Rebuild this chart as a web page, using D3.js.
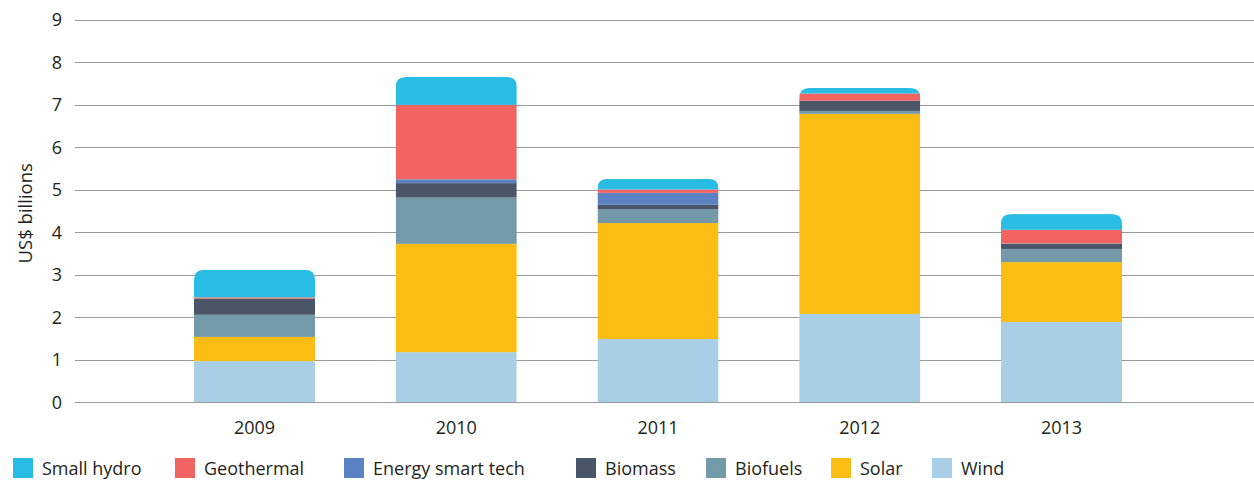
<!DOCTYPE html>
<html>
<head>
<meta charset="utf-8">
<script src="https://cdn.jsdelivr.net/npm/d3@7"></script>
<style>
  html, body { margin: 0; padding: 0; background: #fff; }
  svg { display: block; font-family: "Open Sans", "Noto Sans", sans-serif; }
</style>
</head>
<body>
<div id="chart"></div>
<script>
// Investment by technology, US$ billions
const years = ["2009", "2010", "2011", "2012", "2013"]
const series = ["Wind", "Solar", "Biofuels", "Biomass", "Energy smart tech", "Geothermal", "Small hydro"]
const wind       = [0.97, 1.18, 1.49, 2.08, 1.89]
const solar      = [0.57, 2.55, 2.73, 4.71, 1.41]
const biofuels   = [0.52, 1.09, 0.33, 0.07, 0.31]
const biomass    = [0.38, 0.34, 0.10, 0.24, 0.12]
const energySmart = [0.00, 0.09, 0.28, 0.00, 0.01]
const geothermal = [0.03, 1.75, 0.08, 0.17, 0.32]
const smallHydro = [0.65, 0.66, 0.25, 0.13, 0.37]
const yTicks = [0, 1, 2, 3, 4, 5, 6, 7, 8, 9]
const legendOrder = ["Small hydro", "Geothermal", "Energy smart tech", "Biomass", "Biofuels", "Solar", "Wind"]

const colors = {
  "Small hydro": "#29bde5",
  "Geothermal": "#f26462",
  "Energy smart tech": "#5b82c2",
  "Biomass": "#4a5668",
  "Biofuels": "#7499a8",
  "Solar": "#fbbd13",
  "Wind": "#a9cfe7"
}

const valuesBySeries = {
  "Wind": wind, "Solar": solar, "Biofuels": biofuels, "Biomass": biomass,
  "Energy smart tech": energySmart, "Geothermal": geothermal, "Small hydro": smallHydro
}

const table = years.map((y, i) => {
  const row = { year: y }
  series.forEach(s => { row[s] = valuesBySeries[s][i] })
  return row
})

const width = 1254, height = 482
const gridLeft = 75, gridRight = 1254

const svg = d3.select("#chart").append("svg")
  .attr("width", width)
  .attr("height", height)

const x = d3.scaleBand()
  .domain(years)
  .range([194, 1122])
  .paddingInner(0.4)
  .paddingOuter(0)

const y = d3.scaleLinear()
  .domain([0, 9])
  .range([402.3, 20])

// gridlines
svg.append("g")
  .selectAll("line")
  .data(yTicks)
  .join("line")
  .attr("x1", gridLeft)
  .attr("x2", gridRight)
  .attr("y1", d => Math.round(y(d)) + 0.5)
  .attr("y2", d => Math.round(y(d)) + 0.5)
  .attr("stroke", "#9a9a9a")
  .attr("stroke-width", 1)

// y tick labels
svg.append("g")
  .selectAll("text")
  .data(yTicks)
  .join("text")
  .attr("x", 62)
  .attr("y", d => y(d))
  .attr("dy", "0.35em")
  .attr("text-anchor", "end")
  .attr("fill", "#231f20")
  .attr("font-size", "18px")
  .text(d => d)

svg.append("text")
  .attr("transform", `translate(32,${y(4.45)}) rotate(-90)`)
  .attr("text-anchor", "middle")
  .attr("fill", "#231f20")
  .attr("font-size", "18.5px")
  .text("US$ billions")

// stacked bars, clipped to a rounded-top shape per year
const stack = d3.stack().keys(series)(table)
const r = 10

const defs = svg.append("defs")
table.forEach((row, i) => {
  const total = d3.sum(series, s => row[s])
  const x0 = x(row.year), x1 = x0 + x.bandwidth()
  const top = y(total), bot = y(0)
  defs.append("clipPath")
    .attr("id", `clip-${i}`)
    .append("path")
    .attr("d", `M${x0},${bot}V${top + r}Q${x0},${top} ${x0 + r},${top}H${x1 - r}Q${x1},${top} ${x1},${top + r}V${bot}Z`)
})

svg.append("g")
  .selectAll("g")
  .data(stack)
  .join("g")
  .attr("fill", d => colors[d.key])
  .selectAll("rect")
  .data(d => d)
  .join("rect")
  .attr("clip-path", (d, i) => `url(#clip-${i})`)
  .attr("x", d => x(d.data.year))
  .attr("width", x.bandwidth())
  .attr("y", d => y(d[1]))
  .attr("height", d => Math.max(0, y(d[0]) - y(d[1])))

// baseline on top of bars
svg.append("line")
  .attr("x1", gridLeft)
  .attr("x2", gridRight)
  .attr("y1", Math.round(y(0)) + 0.5)
  .attr("y2", Math.round(y(0)) + 0.5)
  .attr("stroke", "#9a9a9a")

// x labels
svg.append("g")
  .selectAll("text")
  .data(years)
  .join("text")
  .attr("x", d => x(d) + x.bandwidth() / 2)
  .attr("y", 434)
  .attr("text-anchor", "middle")
  .attr("fill", "#231f20")
  .attr("font-size", "18px")
  .text(d => d)

// legend, swatch positions as laid out in the original
const legendX = [13, 175, 344, 576, 706, 831, 932]
const legend = svg.append("g")
  .selectAll("g")
  .data(legendOrder)
  .join("g")
  .attr("transform", (d, i) => `translate(${legendX[i]},458)`)

legend.append("rect")
  .attr("width", 20)
  .attr("height", 20)
  .attr("fill", d => colors[d])

legend.append("text")
  .attr("x", 29)
  .attr("y", 17)
  .attr("fill", "#231f20")
  .attr("font-size", "18px")
  .text(d => d)
</script>
</body>
</html>
